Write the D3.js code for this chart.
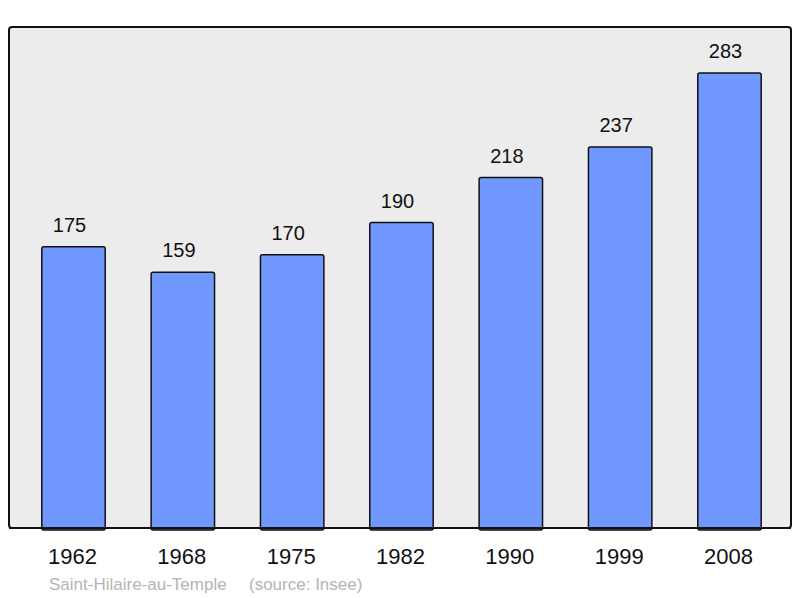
<!DOCTYPE html>
<html>
<head>
<meta charset="utf-8">
<script src="https://cdn.jsdelivr.net/npm/d3@7"></script>
<style>
  body { margin: 0; background: #fff; }
  text { font-family: "Liberation Sans", Arial, sans-serif; }
</style>
</head>
<body>
<div id="canvas"></div>
<script>
const years = ["1962", "1968", "1975", "1982", "1990", "1999", "2008"];
const population = [175, 159, 170, 190, 218, 237, 283];
const commune = "Saint-Hilaire-au-Temple";
const source = "(source: Insee)";

const width = 800;
const height = 598;
const panel = { left: 9, top: 27, right: 791, bottom: 528 };

const svg = d3.select("#canvas").append("svg")
  .attr("width", width)
  .attr("height", height);

// panel background
svg.append("rect")
  .attr("x", panel.left)
  .attr("y", panel.top)
  .attr("width", panel.right - panel.left)
  .attr("height", panel.bottom - panel.top)
  .attr("rx", 3)
  .style("fill", "#ececec")
  .style("stroke", "#111")
  .style("stroke-width", 2);

const x = d3.scaleBand()
  .domain(years)
  .range([9, 794])
  .paddingInner(0.42)
  .paddingOuter(0.3);

const y = d3.scaleLinear()
  .domain([0, 283])
  .range([panel.bottom, 73]);

const data = years.map((yr, i) => ({ year: yr, value: population[i] }));

svg.selectAll("rect.bar")
  .data(data)
  .enter()
  .append("rect")
  .attr("class", "bar")
  .attr("x", (d) => x(d.year))
  .attr("y", (d) => y(d.value))
  .attr("width", x.bandwidth())
  .attr("height", (d) => y(0) - y(d.value) + 2)
  .attr("rx", 2)
  .style("fill", "#7098ff")
  .style("stroke", "#111")
  .style("stroke-width", 1.5);

// redraw panel bottom edge over bars
svg.append("line")
  .attr("x1", panel.left)
  .attr("x2", panel.right)
  .attr("y1", panel.bottom)
  .attr("y2", panel.bottom)
  .style("stroke", "#111")
  .style("stroke-width", 2);

svg.selectAll("text.value")
  .data(data)
  .enter()
  .append("text")
  .attr("class", "value")
  .attr("x", (d) => x(d.year) + x.bandwidth() / 2 - 4)
  .attr("y", (d) => y(d.value) - 15)
  .attr("text-anchor", "middle")
  .style("font-size", "20px")
  .style("fill", "#111")
  .text((d) => d.value);

const xAxis = svg.append("g")
  .attr("transform", `translate(0, ${panel.bottom})`)
  .call(d3.axisBottom(x).tickSize(0).tickPadding(20));
xAxis.select(".domain").remove();
xAxis.selectAll("text")
  .attr("dx", -1)
  .style("font-size", "22px")
  .style("font-family", "'Liberation Sans', Arial, sans-serif")
  .style("fill", "#111");

svg.append("text")
  .attr("x", 49)
  .attr("y", 590)
  .style("font-size", "17px")
  .style("fill", "#b4b4b4")
  .text(commune);

svg.append("text")
  .attr("x", 249)
  .attr("y", 590)
  .style("font-size", "17px")
  .style("fill", "#b4b4b4")
  .text(source);
</script>
</body>
</html>
